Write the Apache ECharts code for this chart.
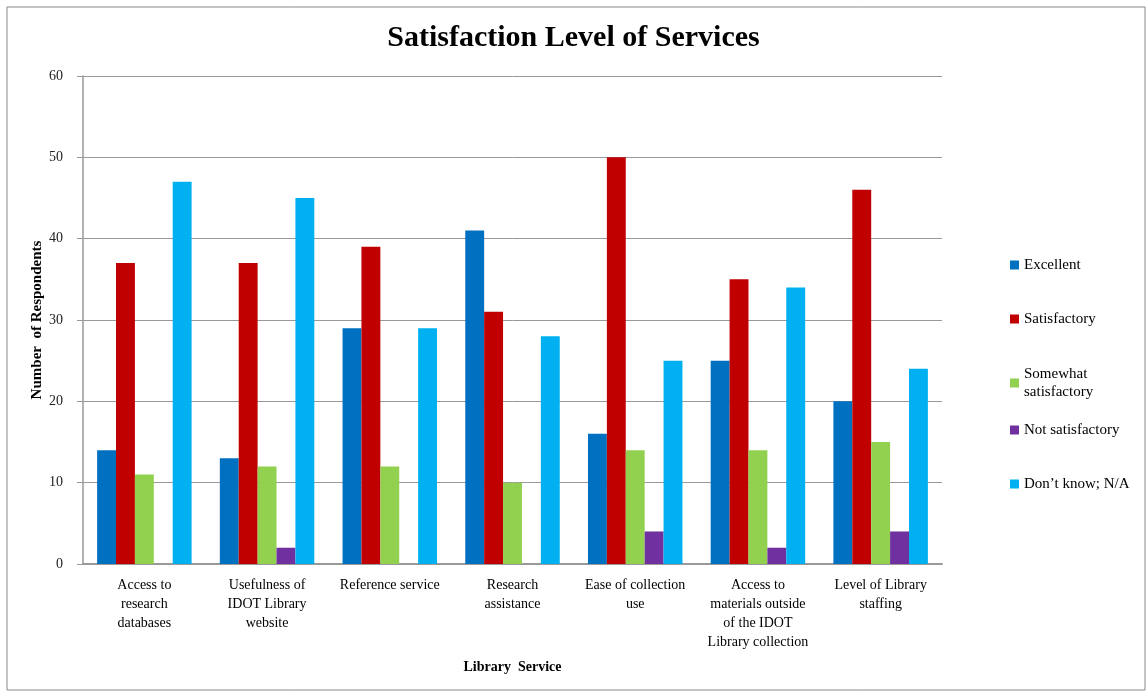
<!DOCTYPE html>
<html><head><meta charset="utf-8">
<script src="https://cdn.jsdelivr.net/npm/echarts@6/dist/echarts.min.js"></script>
<style>html,body{margin:0;padding:0;background:#fff}#c{width:1147px;height:693px}</style>
</head><body><div id="c"></div>
<script>
const categories = ["Access to\nresearch\ndatabases","Usefulness of\nIDOT Library\nwebsite","Reference service","Research\nassistance","Ease of collection\nuse","Access to\nmaterials outside\nof the IDOT\nLibrary collection","Level of Library\nstaffing"];
const seriesNames = ["Excellent","Satisfactory","Somewhat satisfactory","Not satisfactory","Don’t know; N/A"];
const excellent = [14,13,29,41,16,25,20];
const satisfactory = [37,37,39,31,50,35,46];
const somewhat = [11,12,12,10,14,14,15];
const notSatisfactory = [0,2,0,0,4,2,4];
const dontKnow = [47,45,29,28,25,34,24];
const colors = ["#0070C0","#C00000","#92D050","#7030A0","#00B0F0"];
const yTicks = {min:0,max:60,interval:10};

const data = [excellent,satisfactory,somewhat,notSatisfactory,dontKnow];
const font = "'Liberation Serif', 'Times New Roman', serif";
const chart = echarts.init(document.getElementById('c'));
const legendTops = [251,305,360,416,470];
chart.setOption({
  animation:false,
  textStyle:{fontFamily:font},
  title:{text:"Satisfaction Level of Services",left:'center',top:18,
    textStyle:{fontFamily:font,fontSize:30,fontWeight:'bold',color:'#000'}},
  graphic:[{type:'rect',shape:{x:7,y:7,width:1138,height:683},style:{fill:null,stroke:'#888',lineWidth:1},silent:true}],
  legend: seriesNames.map((n,i)=>({
    data:[n], orient:'vertical', left:1005, top:legendTops[i],
    itemWidth:9,itemHeight:9,icon:'rect',itemGap:0,
    formatter: s => s==="Somewhat satisfactory" ? "Somewhat\nsatisfactory" : s,
    textStyle:{fontFamily:font,fontSize:15,color:'#000',lineHeight:18}
  })),
  grid:{left:83,top:76,width:859,height:488,containLabel:false},
  xAxis:{type:'category',data:categories,
    name:"Library  Service",nameLocation:'middle',nameGap:96,
    nameTextStyle:{fontFamily:font,fontSize:14,fontWeight:'bold',color:'#000'},
    axisLine:{lineStyle:{color:'#999',width:2}},
    axisTick:{show:false},
    axisLabel:{interval:0,fontFamily:font,fontSize:14,color:'#000',lineHeight:19,margin:12}},
  yAxis:{type:'value',min:yTicks.min,max:yTicks.max,interval:yTicks.interval,
    name:"Number  of Respondents",nameLocation:'middle',nameGap:38,nameMoveOverlap:false,
    nameTextStyle:{fontFamily:font,fontSize:15,fontWeight:'bold',color:'#000'},
    axisLine:{show:true,lineStyle:{color:'#999',width:1.5}},
    axisTick:{show:true,length:6,lineStyle:{color:'#999'}},
    splitLine:{lineStyle:{color:'#999'}},
    axisLabel:{fontFamily:font,fontSize:14,color:'#222',margin:20}},
  series: seriesNames.map((n,i)=>({
    name:n,type:'bar',data:data[i],barGap:'0%',barCategoryGap:'23%',
    itemStyle:{color:colors[i]}
  }))
});
</script></body></html>
